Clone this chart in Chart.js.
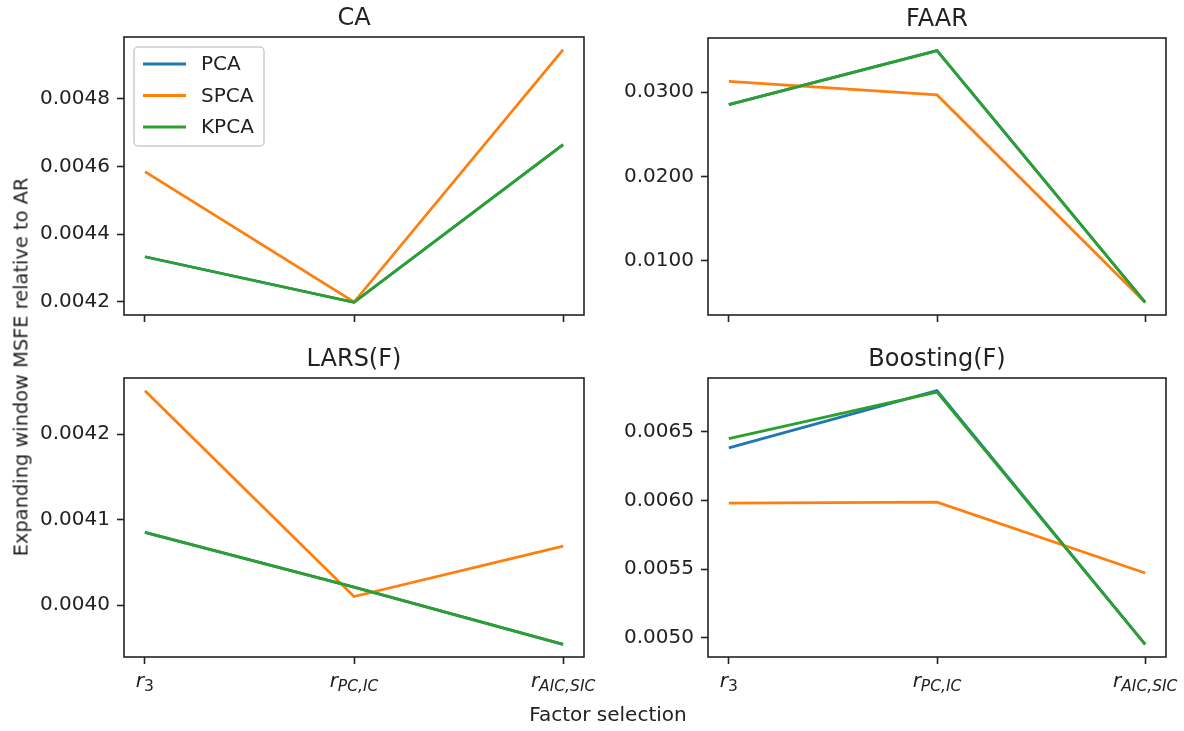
<!DOCTYPE html>
<html>
<head>
<meta charset="utf-8">
<script src="https://cdn.jsdelivr.net/npm/chart.js@4"></script>
<style>
    body { margin: 0; background: #fff; }
    #fig { position: relative; width: 1184px; height: 731px; overflow: hidden; font-family: 'DejaVu Sans', sans-serif; color: #222; }
    #fig canvas { position: absolute; }
    .lbl { position: absolute; font-size: 20px; white-space: nowrap; }
</style>
</head>
<body>
<div id="fig">
    <canvas id="ca" width="600" height="340" style="left:0;top:0"></canvas>
    <canvas id="faar" width="584" height="340" style="left:600px;top:0"></canvas>
    <canvas id="lars" width="600" height="391" style="left:0;top:340px"></canvas>
    <canvas id="boost" width="584" height="391" style="left:600px;top:340px"></canvas>
    <div class="lbl" id="ylab" style="left:21px;top:367px;transform:translate(-50%,-50%) rotate(-90deg);font-size:19.4px">Expanding window MSFE relative to AR</div>
    <div class="lbl" id="xlab" style="left:608px;top:714px;transform:translate(-50%,-50%)">Factor selection</div>
</div>
<script>
// x categories: r with a subscript
const xBase = ['r', 'r', 'r'];
const xSub = ['3', 'PC,IC', 'AIC,SIC'];
const seriesNames = ['PCA', 'SPCA', 'KPCA'];
const seriesColors = ['#1f77b4', '#ff7f0e', '#2ca02c'];

// CA
const caPCA = [0.004333, 0.004198, 0.004665];
const caSPCA = [0.004585, 0.004199, 0.004946];
const caKPCA = [0.004333, 0.004198, 0.004665];
const caTicks = [0.0042, 0.0044, 0.0046, 0.0048];

// FAAR
const faarPCA = [0.02854, 0.03496, 0.0050];
const faarSPCA = [0.0313, 0.02969, 0.0050];
const faarKPCA = [0.02854, 0.03496, 0.0050];
const faarTicks = [0.0100, 0.0200, 0.0300];

// LARS(F)
const larsPCA = [0.004085, 0.004021, 0.003954];
const larsSPCA = [0.004251, 0.004010, 0.004069];
const larsKPCA = [0.004085, 0.004021, 0.003954];
const larsTicks = [0.0040, 0.0041, 0.0042];

// Boosting(F)
const boostPCA = [0.006383, 0.006800, 0.004951];
const boostSPCA = [0.005980, 0.005988, 0.005471];
const boostKPCA = [0.006451, 0.006790, 0.004951];
const boostTicks = [0.0050, 0.0055, 0.0060, 0.0065];

const FONT = "'DejaVu Sans', sans-serif";
const INK = '#222';

// draws the axes frame, title, math tick labels and the legend like matplotlib does
const mplDecor = {
    id: 'mplDecor',
    afterDatasetsDraw(chart, args, opts) {
        const ctx = chart.ctx;
        const a = chart.chartArea;
        ctx.save();
        ctx.strokeStyle = INK;
        ctx.lineWidth = 1.6;
        ctx.strokeRect(a.left, a.top, a.right - a.left, a.bottom - a.top);

        ctx.fillStyle = INK;
        ctx.font = '24px ' + FONT;
        ctx.textAlign = 'center';
        ctx.textBaseline = 'alphabetic';
        ctx.fillText(opts.title, (a.left + a.right) / 2, a.top - 12);

        if (opts.xLabels) {
            const xs = chart.scales.x;
            xBase.forEach((b, i) => {
                const cx = xs.getPixelForValue(i);
                ctx.font = 'italic 20px ' + FONT;
                const wb = ctx.measureText(b).width;
                const subFont = (/^\d+$/.test(xSub[i]) ? '' : 'italic ') + '15.5px ' + FONT;
                ctx.font = subFont;
                const ws = ctx.measureText(xSub[i]).width;
                const x0 = cx - (wb + ws) / 2;
                const base = a.bottom + 30;
                ctx.textAlign = 'left';
                ctx.font = 'italic 20px ' + FONT;
                ctx.fillText(b, x0, base);
                ctx.font = subFont;
                ctx.fillText(xSub[i], x0 + wb, base + 4);
            });
        }

        if (opts.legend) {
            const x = a.left + 10, y = a.top + 10, w = 130, h = 99;
            ctx.beginPath();
            ctx.roundRect(x, y, w, h, 4);
            ctx.fillStyle = 'rgba(255,255,255,0.8)';
            ctx.fill();
            ctx.strokeStyle = '#cccccc';
            ctx.lineWidth = 1.5;
            ctx.stroke();
            ctx.font = '20px ' + FONT;
            ctx.textAlign = 'left';
            ctx.textBaseline = 'middle';
            seriesNames.forEach((n, i) => {
                const ry = y + 17 + i * 31.5;
                ctx.beginPath();
                ctx.moveTo(x + 9, ry);
                ctx.lineTo(x + 52, ry);
                ctx.strokeStyle = seriesColors[i];
                ctx.lineWidth = 2.8;
                ctx.stroke();
                ctx.fillStyle = INK;
                ctx.fillText(n, x + 67, ry + 1);
            });
        }
        ctx.restore();
    }
};

function makeChart(id, title, values, ticks, box) {
    const all = values.flat();
    const lo = Math.min(...all), hi = Math.max(...all);
    const m = (hi - lo) * 0.05;

    const datasets = values.map((vals, i) => ({
        label: seriesNames[i],
        data: vals.map((v, k) => ({ x: k, y: v })),
        borderColor: seriesColors[i],
        backgroundColor: seriesColors[i],
        borderWidth: 2.8,
        pointRadius: 0,
        tension: 0,
        order: values.length - i
    }));

    const tickGrid = { drawOnChartArea: false, drawTicks: true, tickLength: 7, tickWidth: 1.6, tickColor: INK };

    new Chart(document.getElementById(id), {
        type: 'line',
        data: { datasets },
        options: {
            responsive: false,
            animation: false,
            events: [],
            layout: { padding: { left: 0, top: box.top, right: box.right, bottom: 0 } },
            scales: {
                x: {
                    type: 'linear',
                    min: -0.1,
                    max: 2.1,
                    afterBuildTicks: s => { s.ticks = [0, 1, 2].map(v => ({ value: v })); },
                    ticks: { display: false },
                    grid: tickGrid,
                    border: { display: false },
                    afterFit: s => { s.height = box.xh; }
                },
                y: {
                    min: lo - m,
                    max: hi + m,
                    afterBuildTicks: s => { s.ticks = ticks.map(v => ({ value: v })); },
                    ticks: {
                        autoSkip: false,
                        padding: 7,
                        color: INK,
                        font: { family: FONT, size: 20 },
                        callback: v => v.toFixed(4)
                    },
                    grid: tickGrid,
                    border: { display: false },
                    afterFit: s => { s.width = box.yw; }
                }
            },
            plugins: {
                legend: { display: false },
                tooltip: { enabled: false },
                mplDecor: { title, xLabels: box.xLabels, legend: box.legend }
            }
        },
        plugins: [mplDecor]
    });
}

makeChart('ca', 'CA', [caPCA, caSPCA, caKPCA], caTicks,
    { top: 37, right: 16, yw: 124, xh: 25, xLabels: false, legend: true });
makeChart('faar', 'FAAR', [faarPCA, faarSPCA, faarKPCA], faarTicks,
    { top: 38, right: 18, yw: 108, xh: 25, xLabels: false, legend: false });
makeChart('lars', 'LARS(F)', [larsPCA, larsSPCA, larsKPCA], larsTicks,
    { top: 38, right: 16, yw: 124, xh: 74, xLabels: true, legend: false });
makeChart('boost', 'Boosting(F)', [boostPCA, boostSPCA, boostKPCA], boostTicks,
    { top: 38, right: 18, yw: 108, xh: 74, xLabels: true, legend: false });
</script>
</body>
</html>
